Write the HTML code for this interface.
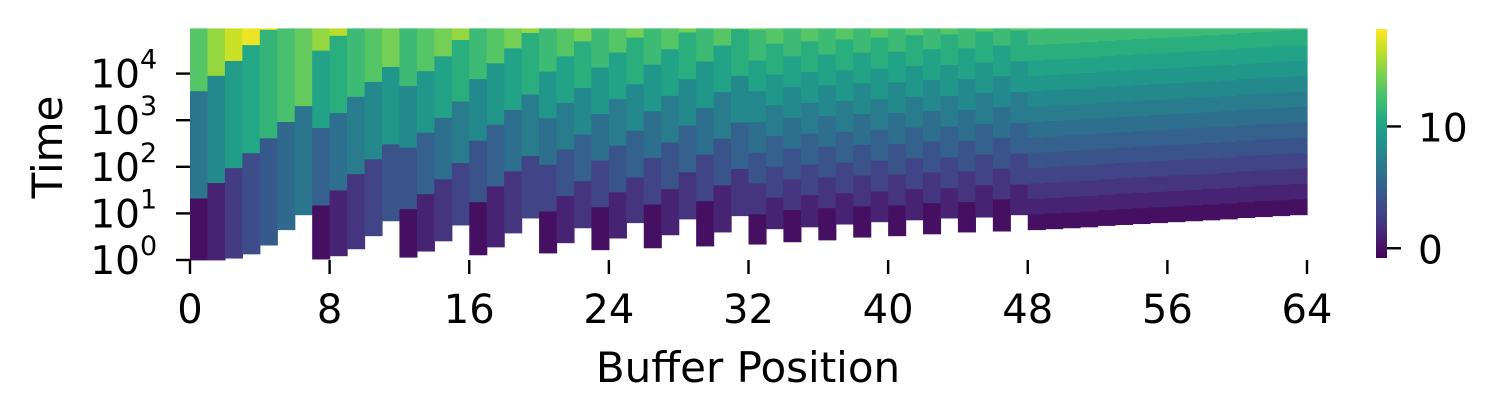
<!DOCTYPE html>
<html><head><meta charset="utf-8"><style>
html,body{margin:0;padding:0;background:#fff;}
svg{display:block;font-family:"DejaVu Sans","Liberation Sans",sans-serif;}
</style></head><body>
<svg id="chart" width="1499" height="420" viewBox="0 0 1499 420" xmlns="http://www.w3.org/2000/svg">
<g id="cells"></g>
<g id="axes"></g>
<g id="cbar"></g>
</svg>
<script>
// per-column data (log10 of time)
const bottoms = [0,0,0.04,0.13,0.32,0.65,0.97, 0.02,0.09,0.24,0.52,0.84, 0.06,0.19,0.41,0.75, 0.11,0.28,0.58,0.9, 0.15,0.37,0.69, 0.22,0.47,0.8, 0.26,0.54,0.88, 0.3,0.6,0.95,
 0.34,0.67,0.39,0.71,0.43,0.77,0.49,0.82,0.52,0.86,0.56,0.9,0.6,0.92,0.62,0.97,
 0.65,0.67,0.69,0.71,0.74,0.76,0.78,0.80,0.82,0.84,0.86,0.88,0.91,0.93,0.95,0.97];
const firstBounds = [1.33,1.66,1.98,2.30,2.62,2.97,3.31, 1.18,1.5,1.85,2.17,2.49, 1.1,1.42,1.74,2.09, 1.25,1.59,1.91,2.24, 1.05,1.38,1.7, 1.14,1.46,1.78, 1.2,1.53,1.89, 1.27,1.61,1.96,
 0.99,1.35,1.08,1.4,1.12,1.44,1.16,1.48,1.18,1.53,1.23,1.55,1.25,1.61,1.31,1.63,
 0.99,1.01,1.03,1.05,1.08,1.10,1.12,1.14,1.16,1.18,1.20,1.22,1.25,1.27,1.29,1.31];
const bandHeights = [2.3,2.3,2.3,2.32,2.33,2.33,2.33, 1.66,1.66,1.66,1.66,1.66, 1.32,1.32,1.32,1.32, 1.32,1.32,1.32,1.32, 1.0,1.0,1.0, 1.0,1.0,1.0, 1.0,1.0,1.0, 1.0,1.0,1.0,
 0.66,0.66,0.66,0.66,0.66,0.66,0.66,0.66,0.66,0.66,0.66,0.66,0.66,0.66,0.66,0.66,
 0.33,0.33,0.33,0.33,0.33,0.33,0.33,0.33,0.33,0.33,0.33,0.33,0.33,0.33,0.33,0.33];
const firstValues = [0,1,2.5,3.5,4.5,5.5,6.5, 0,1,2,3,4, 0,1,2,3, 0,1,2,3, 0,1,2, 0,1,2, 0,1,2, 0,1,2,
 0,1,0,1,0,1,0,1,0,1,0,1,0,1,0,1,
 0,0,0,0,0,0,0,0,0,0,0,0,0,0,0,0];
const valueSteps = [6.5,7,7,7,7,7,7, 5,5,5,5,5, 4,4,4,4, 4,4,4,4, 3,3,3, 3,3,3, 3,3,3, 3,3,3,
 2,2,2,2,2,2,2,2,2,2,2,2,2,2,2,2,
 1,1,1,1,1,1,1,1,1,1,1,1,1,1,1,1];
const xTicks = [0,8,16,24,32,40,48,56,64];
const yTicks = [0,1,2,3,4];
const cbarTicks = [0,10];

const NS="http://www.w3.org/2000/svg";
const X0=190, X1=1307, XMAX=64, Y0=260, DEC=46.6, TOPL=4.97;
const VMIN=-0.8, VMAX=18;
const xs = c => X0 + c*(X1-X0)/XMAX;
const ys = l => Y0 - l*DEC;
const vir=[[68,1,84],[72,36,117],[65,68,135],[53,95,141],[42,120,142],[33,145,140],[34,168,132],[68,191,112],[122,209,81],[189,223,38],[253,231,37]];
function color(v){let t=(v-VMIN)/(VMAX-VMIN);t=Math.max(0,Math.min(1,t));const p=t*10,i=Math.min(9,Math.floor(p)),f=p-i;const a=vir[i],b=vir[i+1];return `rgb(${a.map((c,k)=>Math.round(c+(b[k]-c)*f)).join(',')})`;}
function el(tag,attrs,parent){const e=document.createElementNS(NS,tag);for(const k in attrs)e.setAttribute(k,attrs[k]);parent.appendChild(e);return e;}

const cells=document.getElementById('cells');
for(let c=0;c<64;c++){
  let lo=bottoms[c], hi=firstBounds[c], v=firstValues[c];
  while(lo<TOPL){
    const top=Math.min(hi,TOPL);
    const r=el('rect',{x:xs(c),y:ys(top),width:xs(c+1)-xs(c)+0.6,height:ys(lo)-ys(top)+0.4,fill:color(v)},cells);
    
    
    lo=hi; hi=hi+bandHeights[c]; v+=valueSteps[c];
  }
}
const axes=document.getElementById('axes');
xTicks.forEach(t=>{
  const l=el('line',{x1:xs(t),x2:xs(t),y1:260,y2:274,stroke:'#000','stroke-width':2.4},axes);
  
  
  const tx=el('text',{x:xs(t),y:323,'text-anchor':'middle','font-size':40},axes);
  tx.textContent=t;
  
  
});
yTicks.forEach(t=>{
  const l=el('line',{x1:176,x2:190,y1:ys(t),y2:ys(t),stroke:'#000','stroke-width':2.4},axes);
  
  
  const tx=el('text',{x:140,y:ys(t)+14,'text-anchor':'end','font-size':39},axes);
  tx.textContent='10';
  
  
  const sp=el('text',{x:140,y:ys(t)-5,'font-size':27},axes);
  sp.textContent=t;
  
  
});
const xl=el('text',{x:748,y:382,'text-anchor':'middle','font-size':42},axes);
xl.textContent='Buffer Position';


const yl=el('text',{x:0,y:0,'text-anchor':'middle','font-size':42,transform:'translate(62,147) rotate(-90)'},axes);
yl.textContent='Time';



const cb=document.getElementById('cbar');
const CBX=1376,CBW=11,CBT=29,CBB=258;
const cy=v=>CBB-(v-VMIN)/(VMAX-VMIN)*(CBB-CBT);
const defs=el('defs',{},cb);
const g=el('linearGradient',{id:'vg',x1:0,y1:1,x2:0,y2:0},defs);
vir.forEach((c,i)=>el('stop',{offset:i/10,'stop-color':`rgb(${c.join(',')})`},g));
const bar=el('rect',{x:CBX,y:CBT,width:CBW,height:CBB-CBT,fill:'url(#vg)'},cb);


cbarTicks.forEach(t=>{
  const l=el('line',{x1:CBX+CBW,x2:CBX+CBW+14,y1:cy(t),y2:cy(t),stroke:'#000','stroke-width':2.4},cb);
  
  
  const tx=el('text',{x:1418,y:cy(t)+15,'font-size':39},cb);
  tx.textContent=t;
  
  
});
</script>
</body></html>
